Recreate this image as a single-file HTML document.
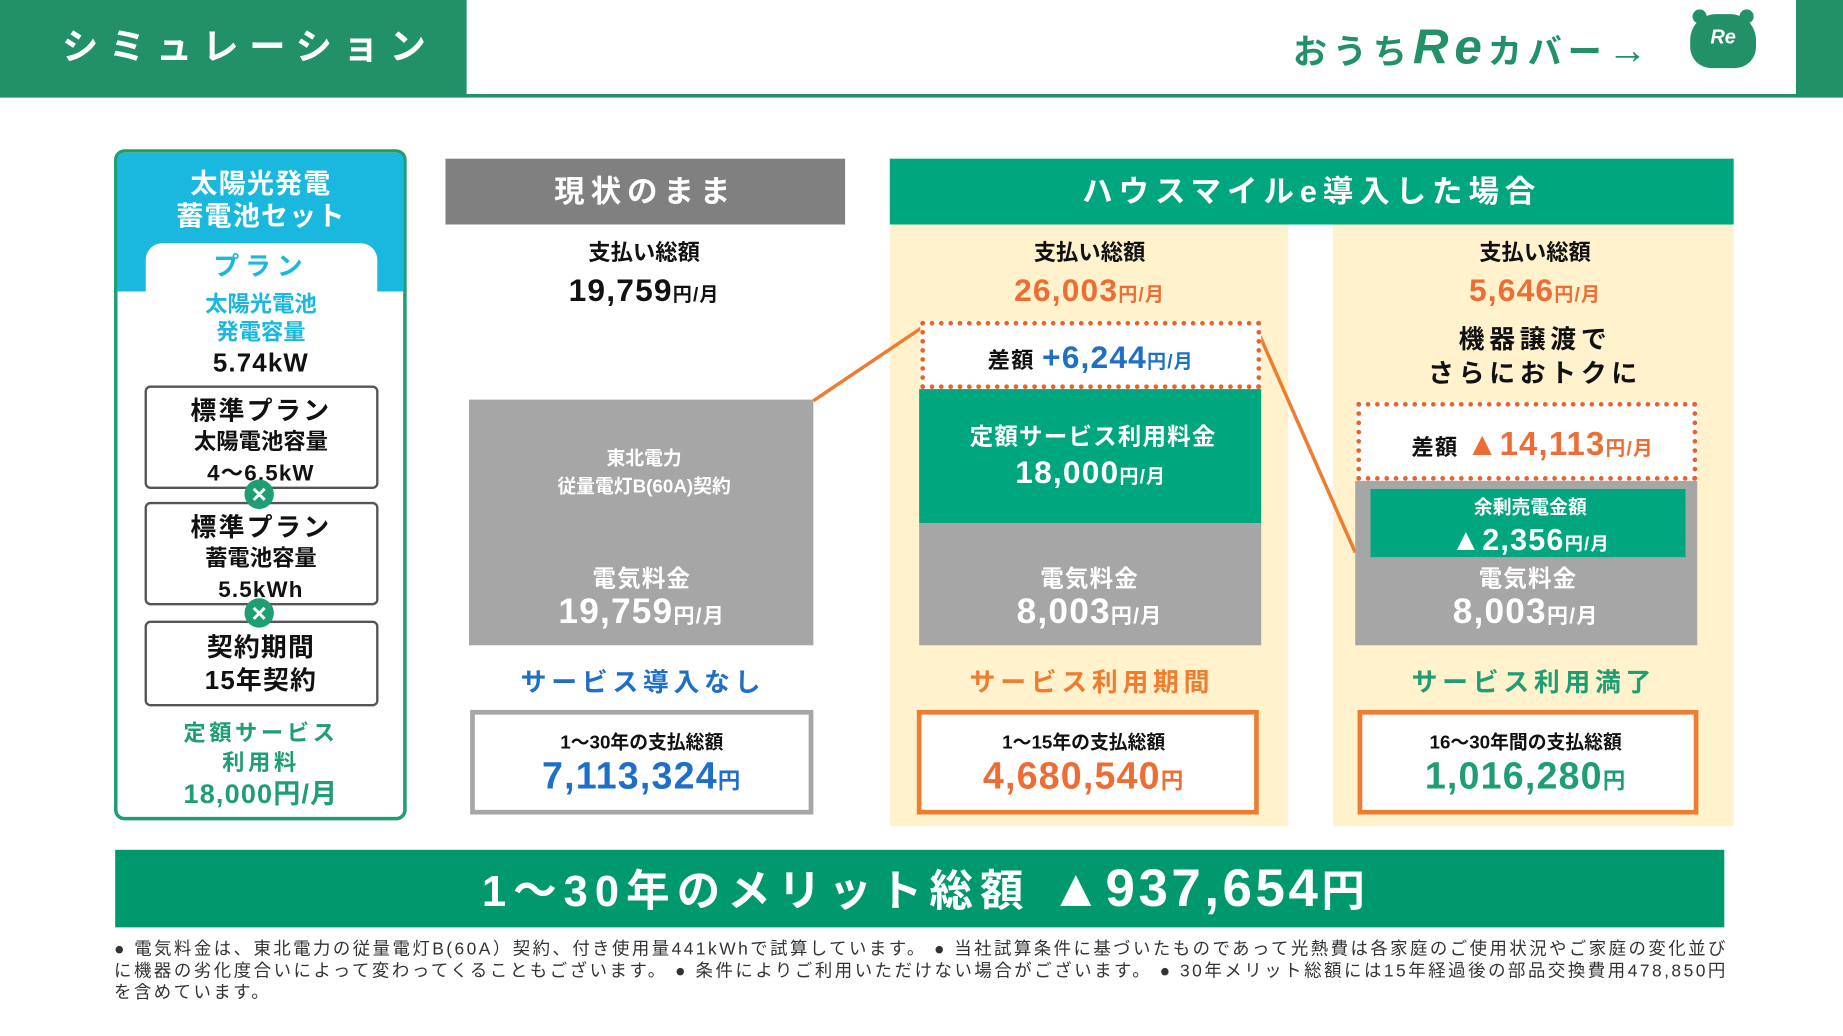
<!DOCTYPE html>
<html><head><meta charset="utf-8">
<style>
html,body{margin:0;padding:0;background:#fff;overflow:hidden}
body{width:1843px;height:1035px}
#w{position:absolute;left:0;top:0;width:1568px;height:881px;transform:scale(1.17538);transform-origin:0 0;font-family:"Liberation Sans","Noto Sans CJK JP",sans-serif;font-weight:bold}
.a{position:absolute;box-sizing:border-box}
.t{position:absolute;width:600px;text-align:center;white-space:nowrap}
.s{font-size:0.6em}
.n{letter-spacing:1px}
</style></head><body><div id="w">
<!-- header -->
<div class="a" style="left:0;top:0;width:397px;height:83px;background:#229168"></div>
<div class="a" style="left:1528px;top:0;width:40px;height:83px;background:#229168"></div>
<div class="a" style="left:0;top:80px;width:1568px;height:3px;background:#229168"></div>
<div class="t" style="left:-88px;top:20px;line-height:40px;font-size:31px;color:#fff;letter-spacing:9px">シミュレーション</div>
<div class="a" style="left:1100px;top:16px;line-height:48px;font-size:29px;color:#229168;white-space:nowrap;letter-spacing:5px">おうち<span style="font-size:42px;font-style:italic">Re</span>カバー<span style="font-size:34px">→</span></div>
<div class="a" style="left:1438px;top:12px;width:56px;height:46px;background:#229168;border-radius:22px 22px 18px 18px"></div>
<div class="a" style="left:1440px;top:8px;width:12px;height:12px;background:#229168;border-radius:50%"></div>
<div class="a" style="left:1480px;top:8px;width:12px;height:12px;background:#229168;border-radius:50%"></div>
<div class="t" style="left:1166px;top:22px;line-height:20px;font-size:17px;color:#fff;font-style:italic">Re</div>

<!-- left panel -->
<div class="a" style="left:97px;top:127px;width:249px;height:571px;border:3px solid #1f9e73;border-radius:9px;background:#fff;overflow:hidden">
<div class="a" style="left:0;top:0;width:243px;height:118px;background:#1ab8de"></div>
<div class="a" style="left:24px;top:77px;width:197px;height:60px;background:#fff;border-radius:14px 14px 0 0"></div>
</div>
<div class="t" style="left:-78px;top:142px;line-height:28px;font-size:23px;color:#fff;letter-spacing:1px">太陽光発電<br>蓄電池セット</div>
<div class="t" style="left:-78px;top:213px;line-height:28px;font-size:22px;color:#1ab8de;letter-spacing:5px">プラン</div>
<div class="t" style="left:-78px;top:248px;line-height:24px;font-size:19px;color:#1ab8de">太陽光電池<br>発電容量</div>
<div class="t" style="left:-78px;top:295px;line-height:28px;font-size:22px;color:#111;letter-spacing:1px">5.74kW</div>
<div class="a" style="left:123px;top:328px;width:199px;height:88px;border:2px solid #555;border-radius:5px"></div>
<div class="a" style="left:123px;top:427px;width:199px;height:88px;border:2px solid #555;border-radius:5px"></div>
<div class="a" style="left:123px;top:528px;width:199px;height:73px;border:2px solid #555;border-radius:5px"></div>
<div class="t" style="left:-78px;top:337px;line-height:25px;font-size:22px;color:#111;letter-spacing:2px">標準プラン<br><span style="font-size:19px;letter-spacing:0">太陽電池容量</span><br><span style="font-size:19px;letter-spacing:1px">4～6.5kW</span></div>
<div class="t" style="left:-78px;top:436px;line-height:25px;font-size:22px;color:#111;letter-spacing:2px">標準プラン<br><span style="font-size:19px;letter-spacing:0">蓄電池容量</span><br><span style="font-size:19px;letter-spacing:1px">5.5kWh</span></div>
<div class="t" style="left:-78px;top:537px;line-height:28px;font-size:22px;color:#111;letter-spacing:1px">契約期間<br>15年契約</div>
<div class="a" style="left:208px;top:408px;width:25px;height:25px;border-radius:50%;background:#1f9e73;color:#fff;font-size:22px;line-height:25px;text-align:center">×</div>
<div class="a" style="left:208px;top:509px;width:25px;height:25px;border-radius:50%;background:#1f9e73;color:#fff;font-size:22px;line-height:25px;text-align:center">×</div>
<div class="t" style="left:-78px;top:612px;line-height:25px;font-size:19px;color:#1f9e73;letter-spacing:3px">定額サービス<br>利用料</div>
<div class="t" style="left:-78px;top:661px;line-height:28px;font-size:23px;color:#1f9e73;letter-spacing:1px">18,000円/月</div>

<!-- headers -->
<div class="a" style="left:379px;top:135px;width:340px;height:56px;background:#808080"></div>
<div class="t" style="left:249px;top:145px;line-height:36px;font-size:26px;color:#fff;letter-spacing:5px">現状のまま</div>
<div class="a" style="left:757px;top:135px;width:718px;height:56px;background:#00a67e"></div>
<div class="t" style="left:816px;top:145px;line-height:36px;font-size:26px;color:#fff;letter-spacing:5px">ハウスマイルe導入した場合</div>
<div class="a" style="left:757px;top:191px;width:339px;height:512px;background:#fff2cc"></div>
<div class="a" style="left:1134px;top:191px;width:341px;height:512px;background:#fff2cc"></div>

<!-- lines -->
<svg class="a" style="left:0;top:0" width="1568" height="881"><line x1="692" y1="341" x2="784" y2="279" stroke="#ed7d31" stroke-width="3"/><line x1="1072" y1="286" x2="1153" y2="470" stroke="#ed7d31" stroke-width="3"/></svg>

<!-- col1 -->
<div class="t" style="left:248px;top:204px;line-height:24px;font-size:19px;color:#111">支払い総額</div>
<div class="t n" style="left:248px;top:232px;line-height:30px;font-size:27px;color:#111">19,759<span class="s">円/月</span></div>
<div class="a" style="left:399px;top:340px;width:293px;height:209px;background:#a6a6a6"></div>
<div class="t" style="left:248px;top:379px;line-height:24px;font-size:16px;color:#fff">東北電力<br>従量電灯B(60A)契約</div>
<div class="t" style="left:246px;top:481px;line-height:24px;font-size:20px;color:#fff;letter-spacing:1px">電気料金</div>
<div class="t n" style="left:246px;top:504px;line-height:34px;font-size:30px;color:#fff">19,759<span class="s">円/月</span></div>
<div class="t" style="left:247px;top:566px;line-height:30px;font-size:22px;color:#1f6fc7;letter-spacing:4px">サービス導入なし</div>
<div class="a" style="left:400px;top:604px;width:292px;height:89px;border:4px solid #a6a6a6;background:#fff"></div>
<div class="t" style="left:246px;top:622px;line-height:22px;font-size:16px;color:#111">1～30年の支払総額</div>
<div class="t n" style="left:246px;top:642px;line-height:36px;font-size:32px;color:#1f6fc7">7,113,324<span class="s">円</span></div>

<!-- col2 -->
<div class="t" style="left:627px;top:204px;line-height:24px;font-size:19px;color:#111">支払い総額</div>
<div class="t n" style="left:627px;top:232px;line-height:30px;font-size:27px;color:#ed6d35">26,003<span class="s">円/月</span></div>
<div class="a" style="left:782px;top:331px;width:291px;height:114px;background:#00a67e"></div>
<div class="a" style="left:782px;top:445px;width:291px;height:104px;background:#a6a6a6"></div>
<div class="a" style="left:783px;top:273px;width:290px;height:58px;border:4px dotted #e8632b;background:#fff"></div>
<div class="t n" style="left:628px;top:288px;line-height:32px;font-size:27px;color:#1f6fc7"><span style="color:#111;font-size:19px">差額 </span>+6,244<span class="s">円/月</span></div>
<div class="t" style="left:630px;top:359px;line-height:26px;font-size:20px;color:#fff;letter-spacing:1px">定額サービス利用料金</div>
<div class="t n" style="left:628px;top:386px;line-height:32px;font-size:27px;color:#fff">18,000<span class="s">円/月</span></div>
<div class="t" style="left:627px;top:481px;line-height:24px;font-size:20px;color:#fff;letter-spacing:1px">電気料金</div>
<div class="t n" style="left:627px;top:504px;line-height:34px;font-size:30px;color:#fff">8,003<span class="s">円/月</span></div>
<div class="t" style="left:629px;top:566px;line-height:30px;font-size:22px;color:#ed7d31;letter-spacing:4px">サービス利用期間</div>
<div class="a" style="left:780px;top:604px;width:291px;height:89px;border:4px solid #ed7d31;background:#fff"></div>
<div class="t" style="left:622px;top:622px;line-height:22px;font-size:16px;color:#111">1～15年の支払総額</div>
<div class="t n" style="left:622px;top:642px;line-height:36px;font-size:32px;color:#ed6d35">4,680,540<span class="s">円</span></div>

<!-- col3 -->
<div class="t" style="left:1006px;top:204px;line-height:24px;font-size:19px;color:#111">支払い総額</div>
<div class="t n" style="left:1006px;top:232px;line-height:30px;font-size:27px;color:#ed6d35">5,646<span class="s">円/月</span></div>
<div class="t" style="left:1006px;top:274px;line-height:29px;font-size:22px;color:#111;letter-spacing:4px">機器譲渡で<br>さらにおトクに</div>
<div class="a" style="left:1153px;top:409px;width:291px;height:140px;background:#a6a6a6"></div>
<div class="a" style="left:1166px;top:416px;width:268px;height:58px;background:#00a67e"></div>
<div class="a" style="left:1154px;top:342px;width:290px;height:67px;border:4px dotted #e8632b;background:#fff"></div>
<div class="t n" style="left:1004px;top:361px;line-height:34px;font-size:28px;color:#ed6d35"><span style="color:#111;font-size:19px">差額 </span>▲14,113<span class="s">円/月</span></div>
<div class="t" style="left:1002px;top:423px;line-height:20px;font-size:16px;color:#fff">余剰売電金額</div>
<div class="t n" style="left:1002px;top:444px;line-height:30px;font-size:26px;color:#fff">▲2,356<span class="s">円/月</span></div>
<div class="t" style="left:1000px;top:481px;line-height:24px;font-size:20px;color:#fff;letter-spacing:1px">電気料金</div>
<div class="t n" style="left:998px;top:504px;line-height:34px;font-size:30px;color:#fff">8,003<span class="s">円/月</span></div>
<div class="t" style="left:1005px;top:566px;line-height:30px;font-size:22px;color:#1f9e73;letter-spacing:4px">サービス利用満了</div>
<div class="a" style="left:1155px;top:604px;width:290px;height:89px;border:4px solid #ed7d31;background:#fff"></div>
<div class="t" style="left:998px;top:622px;line-height:22px;font-size:16px;color:#111">16～30年間の支払総額</div>
<div class="t n" style="left:998px;top:642px;line-height:36px;font-size:32px;color:#1f9e73">1,016,280<span class="s">円</span></div>

<!-- banner -->
<div class="a" style="left:98px;top:723px;width:1369px;height:66px;background:#00996e"></div>
<div class="a" style="left:410px;top:731px;line-height:50px;font-size:37px;color:#fff;letter-spacing:6px;white-space:nowrap">1～30年のメリット総額 <span style="font-size:45px;letter-spacing:3px">▲937,654</span>円</div>

<!-- notes -->
<div class="a" style="left:97px;top:799px;width:1373px;font-size:14.8px;line-height:18.5px;color:#333;font-weight:normal;letter-spacing:2.1px;text-align:justify;text-align-last:left">● 電気料金は、東北電力の従量電灯B(60A）契約、付き使用量441kWhで試算しています。 ● 当社試算条件に基づいたものであって光熱費は各家庭のご使用状況やご家庭の変化並びに機器の劣化度合いによって変わってくることもございます。 ● 条件によりご利用いただけない場合がございます。 ● 30年メリット総額には15年経過後の部品交換費用478,850円を含めています。</div>
</div></body></html>
